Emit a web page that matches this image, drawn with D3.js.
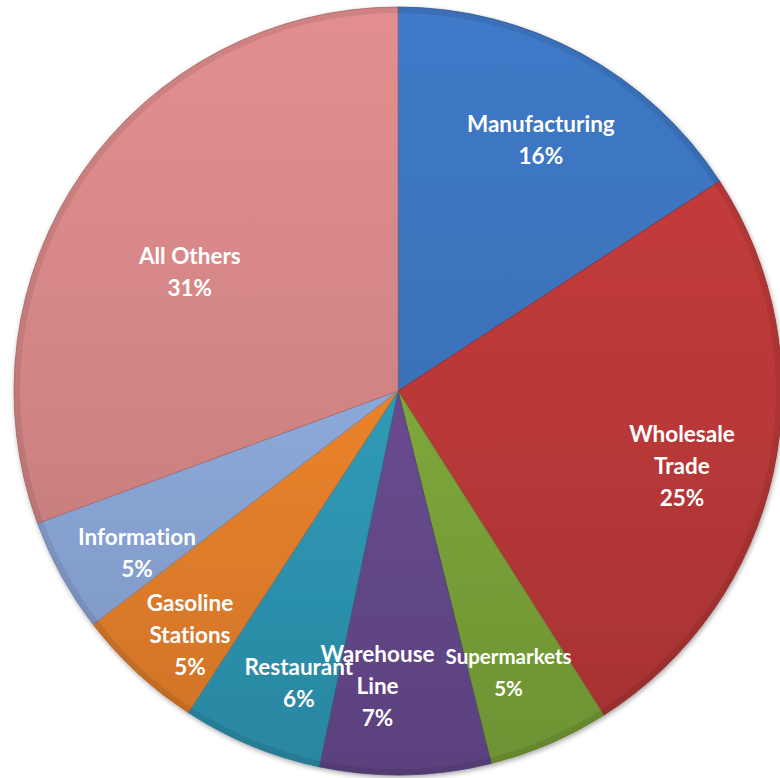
<!DOCTYPE html>
<html>
<head>
<meta charset="utf-8">
<script src="https://cdn.jsdelivr.net/npm/d3@7"></script>
<style>
  body { margin: 0; background: #fff; }
  svg { display: block; }
  text { font-variant-ligatures: none; }
</style>
</head>
<body>
<div id="chart"></div>
<script>
// slice data, clockwise from 12 o'clock
var categories = ["Manufacturing", "Wholesale\nTrade", "Supermarkets", "Warehouse\nLine",
                  "Restaurant", "Gasoline\nStations", "Information", "All Others"];
var shares = [15.8, 25.2, 5.1, 7.2, 5.9, 5.4, 4.8, 30.6];
var colors = ["#3a70b7", "#b93838", "#7ca53a", "#674a8e", "#2f98b5", "#e8812c", "#8ba7d7", "#d08383"];

var width = 780, height = 778;
var cx = 398, cy = 391, radius = 384;

// small hand nudges so the labels sit where excel put them
var labelNudge = [[2, 9], [-5, 12], [-6, 10], [-26, -1], [14, 19], [-7, 27], [-2, 20], [-13, 17]];

var data = categories.map((c, i) => ({name: c, value: shares[i], color: colors[i]}));

var svg = d3.select("#chart").append("svg")
    .attr("width", width)
    .attr("height", height);

var defs = svg.append("defs");

// vertical shading like the office 3d style
data.forEach(function(d, i) {
  var g = defs.append("linearGradient")
      .attr("id", "grad" + i)
      .attr("gradientUnits", "userSpaceOnUse")
      .attr("x1", 0).attr("y1", -radius)
      .attr("x2", 0).attr("y2", radius);
  g.append("stop").attr("offset", "0%").attr("stop-color", d3.color(d.color).brighter(0.25));
  g.append("stop").attr("offset", "55%").attr("stop-color", d.color);
  g.append("stop").attr("offset", "100%").attr("stop-color", d3.color(d.color).darker(0.35));
});

var shadow = defs.append("filter").attr("id", "shadow")
    .attr("x", "-10%").attr("y", "-10%").attr("width", "120%").attr("height", "120%");
shadow.append("feDropShadow")
    .attr("dx", 1).attr("dy", 2).attr("stdDeviation", 2.5)
    .attr("flood-color", "#000").attr("flood-opacity", 0.35);

var pie = d3.pie().sort(null).value(d => d.value);
var arcs = pie(data);

var arc = d3.arc().innerRadius(0).outerRadius(radius);
var rim = d3.arc().innerRadius(radius - 6).outerRadius(radius);

var g = svg.append("g").attr("transform", `translate(${cx},${cy})`);

var slices = g.append("g").attr("filter", "url(#shadow)");

slices.selectAll("path.slice")
  .data(arcs)
  .join("path")
    .attr("class", "slice")
    .attr("d", arc)
    .attr("fill", (d, i) => `url(#grad${i})`)
    .attr("stroke", d => d3.color(d.data.color).darker(0.6))
    .attr("stroke-width", 0.8)
    .attr("stroke-linejoin", "round");

// soft bevel at the outer edge
g.selectAll("path.rim")
  .data(arcs)
  .join("path")
    .attr("class", "rim")
    .attr("d", rim)
    .attr("fill", "#000")
    .attr("fill-opacity", 0.08);

var fmt = d3.format(".0%");

var labels = g.selectAll("text.lbl")
  .data(arcs)
  .join("text")
    .attr("class", "lbl")
    .attr("transform", function(d, i) {
      var f = d.data.value > 30 ? 0.62 : 0.77;
      var c = d3.arc().innerRadius(radius * f).outerRadius(radius * f).centroid(d);
      return `translate(${c[0] + labelNudge[i][0]},${c[1] + labelNudge[i][1]})`;
    })
    .attr("text-anchor", "middle")
    .attr("font-family", "Lato, 'Open Sans', sans-serif")
    .attr("font-weight", "bold")
    .attr("font-size", d => d.data.name == "Supermarkets" ? 20.5 : 22.5)
    .attr("fill", "#fff");

labels.each(function(d) {
  var lines = d.data.name.split("\n").concat([fmt(d.data.value / 100)]);
  var lh = 32;
  var t = d3.select(this);
  lines.forEach(function(l, i) {
    t.append("tspan")
      .attr("x", 0)
      .attr("y", (i - (lines.length - 1) / 2) * lh)
      .attr("dy", "0.35em")
      .text(l);
  });
});
</script>
</body>
</html>
